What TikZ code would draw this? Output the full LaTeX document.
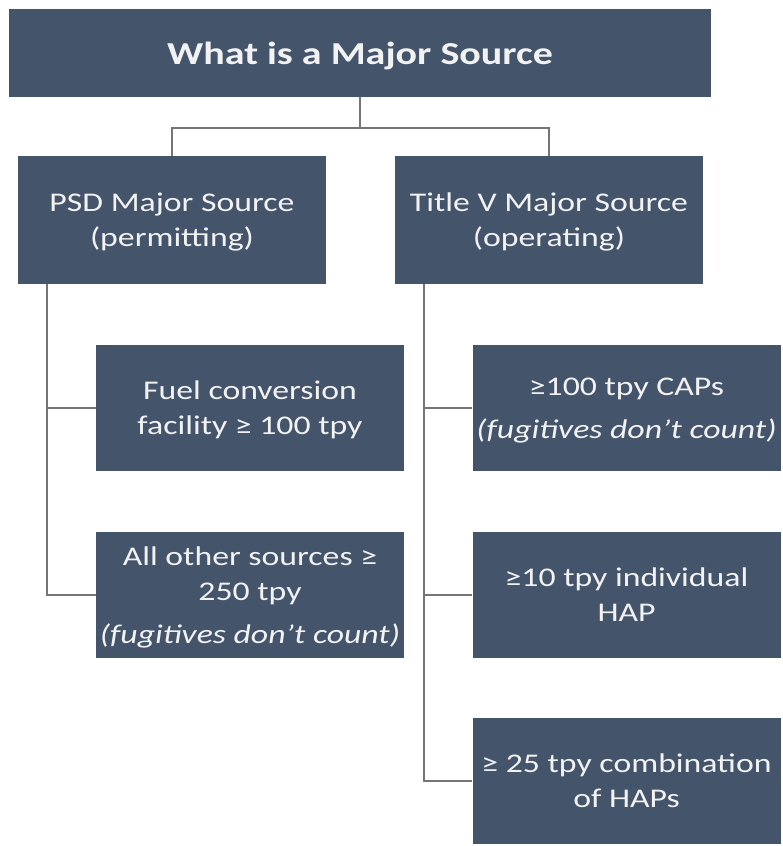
\documentclass[tikz,border=0pt]{standalone}
\usepackage{fontspec}
\setmainfont{Carlito}[FakeStretch=1.25]
\definecolor{boxfill}{HTML}{44546A}
\definecolor{linegray}{HTML}{757575}
\definecolor{txt}{HTML}{F2F2F2}
\tikzset{
  mybox/.style={rectangle, fill=boxfill, draw=none, inner sep=0pt, align=center,
    text=txt, text depth=0pt, font=\fontsize{27pt}{35pt}\selectfont},
  wide/.style={minimum width=308pt, minimum height=126pt},
  conn/.style={draw=linegray, line width=2pt}
}
\begin{document}
\begin{tikzpicture}[x=1pt, y=-1pt]
\useasboundingbox (0,0) rectangle (783,846);
\node[mybox, minimum width=702pt, minimum height=88pt, font=\bfseries\fontsize{32pt}{38pt}\selectfont] (top) at (360,53) {What is a Major Source};
\node[mybox, minimum width=308pt, minimum height=128pt] (psd) at (172,220) {PSD Major Source\\(permitting)};
\node[mybox, minimum width=308pt, minimum height=128pt] (tv) at (549,220) {Title V Major Source\\(operating)};
\node[mybox, wide] (fuel) at (250,408) {Fuel conversion\\facility ≥ 100 tpy};
\node[mybox, wide] (other) at (250,595) {All other sources ≥\\250 tpy\\[8pt]\textit{(fugitives don’t count)}};
\node[mybox, wide] (caps) at (626.5,408) {≥100 tpy CAPs\\[8pt]\textit{(fugitives don’t count)}};
\node[mybox, wide] (hap) at (626.5,595) {≥10 tpy individual\\HAP};
\node[mybox, wide] (comb) at (626.5,781) {≥ 25 tpy combination\\of HAPs};
\coordinate (lx) at (47,0);
\coordinate (rx) at (424,0);
\coordinate (hy) at (0,128);
\draw[conn] (top.south) -- (top.south |- hy) -| (psd.north);
\draw[conn] (top.south |- hy) -| (tv.north);
\draw[conn] (lx |- psd.south) |- (fuel.west);
\draw[conn] (lx |- psd.south) |- (other.west);
\draw[conn] (rx |- tv.south) |- (caps.west);
\draw[conn] (rx |- tv.south) |- (hap.west);
\draw[conn] (rx |- tv.south) |- (comb.west);
\end{tikzpicture}
\end{document}
